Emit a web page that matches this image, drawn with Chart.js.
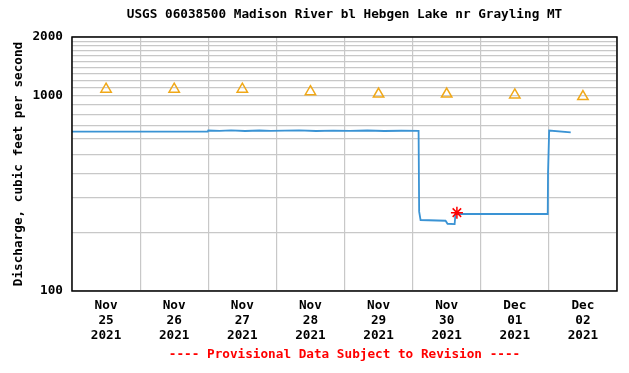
<!DOCTYPE html>
<html>
<head>
<meta charset="utf-8">
<script src="https://cdn.jsdelivr.net/npm/chart.js@4.4.0/dist/chart.umd.min.js"></script>
<style>
    html, body { margin: 0; padding: 0; background: #ffffff; }
    #wrap { width: 629px; height: 373px; }
</style>
</head>
<body>
<div id="wrap"><canvas id="chart" width="629" height="373"></canvas></div>
<script>
// Data (x = hours since Nov 25 2021 00:00)
const dischargeHours = [0, 24, 47.8, 48, 52, 56, 61, 66, 70, 75, 80, 86, 92, 98, 104, 110, 116, 122.1, 122.3, 122.8, 131.6, 132.3, 134.8, 135.1, 167.6, 167.7, 168.1, 175.7];
const dischargeValues = [655, 655, 655, 664, 661, 665, 660, 664, 661, 663, 665, 660, 663, 661, 664, 660, 662, 661, 255, 231, 229, 221, 220, 248, 248, 402, 664, 650];

const dayLabels = [['Nov', '25', '2021'], ['Nov', '26', '2021'], ['Nov', '27', '2021'], ['Nov', '28', '2021'],
                   ['Nov', '29', '2021'], ['Nov', '30', '2021'], ['Dec', '01', '2021'], ['Dec', '02', '2021']];
const medianHours = [12, 36, 60, 84, 108, 132, 156, 180];
const medianValues = [1080, 1080, 1080, 1050, 1020, 1020, 1010, 990];

const latestHour = [135.6];
const latestValue = [252];

const yTickValues = [100, 200, 300, 400, 500, 600, 700, 800, 900, 1000, 1100, 1200, 1300, 1400, 1500, 1600, 1700, 1800, 1900, 2000];
const yLabelled = [100, 1000, 2000];

const mono = "'DejaVu Sans Mono', 'Liberation Mono', monospace";

function toPoints(xs, ys) {
    return xs.map((x, i) => ({x: x, y: ys[i]}));
}

// Title, footer and frame drawn round the plot area
const decorations = {
    id: 'decorations',
    afterDraw(chart) {
        const ctx = chart.ctx;
        const area = chart.chartArea;
        const cx = (area.left + area.right) / 2;
        ctx.save();
        ctx.strokeStyle = '#000000';
        ctx.lineWidth = 1.5;
        ctx.strokeRect(area.left, area.top, area.right - area.left, area.bottom - area.top);
        ctx.textAlign = 'center';
        ctx.textBaseline = 'middle';
        ctx.font = `bold 12.7px ${mono}`;
        ctx.fillStyle = '#000000';
        ctx.fillText('USGS 06038500 Madison River bl Hebgen Lake nr Grayling MT', cx, 15);
        ctx.fillStyle = '#ff0000';
        ctx.fillText('---- Provisional Data Subject to Revision ----', cx, 355);
        ctx.restore();
    }
};

const ctx = document.getElementById('chart').getContext('2d');
const myChart = new Chart(ctx, {
    type: 'line',
    data: {
        datasets: [{
            label: 'Discharge',
            data: toPoints(dischargeHours, dischargeValues),
            borderColor: '#3a93d4',
            borderWidth: 1.8,
            pointRadius: 0,
            tension: 0,
            order: 3
        }, {
            label: 'Median daily statistic',
            data: toPoints(medianHours, medianValues),
            showLine: false,
            pointStyle: 'triangle',
            pointRadius: 6,
            pointBorderWidth: 1.5,
            pointBorderColor: '#f0a818',
            pointBackgroundColor: 'rgba(0,0,0,0)',
            order: 2
        }, {
            label: 'Latest value',
            data: toPoints(latestHour, latestValue),
            showLine: false,
            pointStyle: 'star',
            pointRadius: 6,
            pointBorderWidth: 1.5,
            pointBorderColor: '#ff0000',
            pointBackgroundColor: '#ff0000',
            order: 1
        }]
    },
    options: {
        responsive: false,
        animation: false,
        layout: { padding: { top: 37, right: 12, left: 0, bottom: 0 } },
        plugins: {
            legend: { display: false },
            tooltip: { enabled: false },
            title: { display: false }
        },
        scales: {
            x: {
                type: 'linear',
                min: 0,
                max: 192,
                afterBuildTicks: scale => {
                    const t = [];
                    for (let h = 0; h <= 192; h += 12) t.push({value: h});
                    scale.ticks = t;
                },
                afterFit: scale => { scale.height = 82; },
                grid: {
                    drawTicks: false,
                    color: c => (c.tick && c.tick.value % 24 === 0) ? '#c8c8c8' : 'rgba(0,0,0,0)',
                    lineWidth: 1.2
                },
                border: { display: false },
                ticks: {
                    autoSkip: false,
                    maxRotation: 0,
                    padding: 7,
                    color: '#000000',
                    font: { family: mono, size: 12.7, weight: 'bold', lineHeight: '15px' },
                    callback: value => (value % 24 === 12) ? dayLabels[(value - 12) / 24] : ''
                }
            },
            y: {
                type: 'logarithmic',
                min: 100,
                max: 2000,
                afterBuildTicks: scale => {
                    scale.ticks = yTickValues.map(v => ({value: v}));
                },
                afterFit: scale => { scale.width = 72; },
                grid: {
                    drawTicks: false,
                    color: '#c8c8c8',
                    lineWidth: 1.2
                },
                border: { display: false },
                title: {
                    display: true,
                    text: 'Discharge, cubic feet per second',
                    color: '#000000',
                    font: { family: mono, size: 12.7, weight: 'bold', lineHeight: '15px' },
                    padding: { top: 11, bottom: 0 }
                },
                ticks: {
                    autoSkip: false,
                    padding: 9,
                    color: '#000000',
                    font: { family: mono, size: 12.7, weight: 'bold' },
                    callback: value => yLabelled.includes(value) ? String(value) : ''
                }
            }
        }
    },
    plugins: [decorations]
});
</script>
</body>
</html>
